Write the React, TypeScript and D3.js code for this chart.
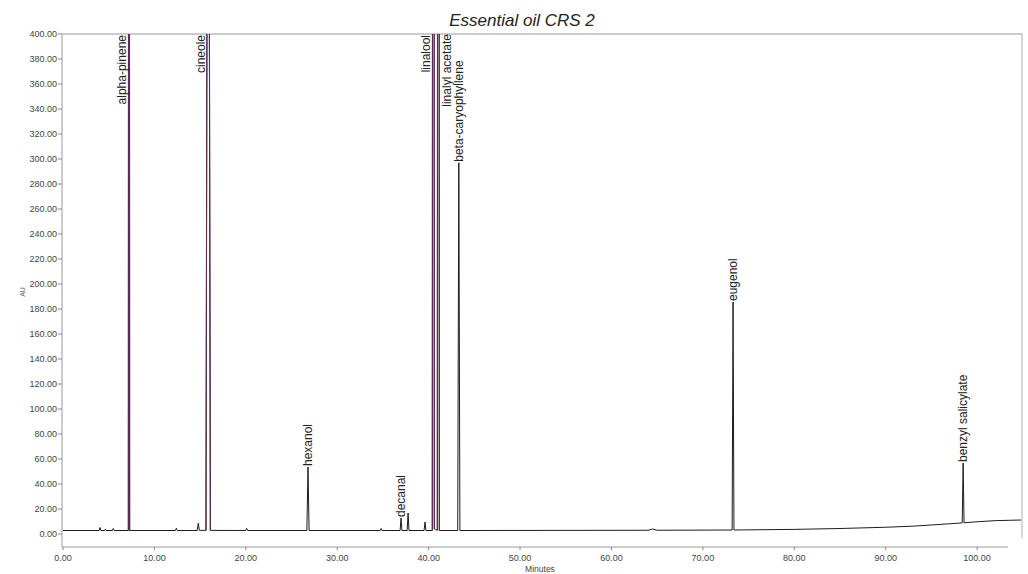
import React from 'react';
import * as d3 from 'd3';

// Chromatogram trace (minutes, AU)
const traceTimes = [
  0, 3.95, 4.05, 4.15, 4.55, 4.62, 4.7, 5.4, 5.5, 5.6,
  7.15, 7.22, 7.29,
  12.3, 12.4, 12.5, 14.68, 14.8, 14.92,
  15.64, 15.88, 16.12,
  19.98, 20.08, 20.18,
  26.68, 26.8, 26.92,
  34.7, 34.8, 34.9,
  36.88, 36.98, 37.08, 37.65, 37.75, 37.85, 39.5, 39.6, 39.7,
  40.4, 40.51, 40.62, 40.75, 40.95, 41.06, 41.17,
  43.18, 43.3, 43.42,
  55, 64.0, 64.5, 65.0,
  73.2, 73.3, 73.4,
  80, 85, 90, 93, 95, 97,
  98.37, 98.47, 98.57,
  100, 102, 104.8,
];
const traceValues = [
  2.8, 2.8, 5.2, 2.8, 2.8, 3.8, 2.8, 2.8, 4.4, 2.8,
  2.8, 2000, 2.8,
  2.8, 4.6, 2.8, 2.8, 8.6, 2.9,
  2.9, 930, 2.9,
  2.8, 4.6, 2.8,
  2.8, 53.6, 2.8,
  2.8, 4.4, 2.8,
  2.8, 12.8, 2.8, 2.8, 16.8, 2.8, 2.8, 9.6, 2.8,
  2.8, 2500, 4.0, 3.5, 3.0, 2500, 2.8,
  2.8, 297, 2.8,
  2.9, 3.0, 4.0, 3.0,
  3.2, 185.6, 3.2,
  3.7, 4.4, 5.4, 6.3, 7.2, 8.2,
  8.9, 56.8, 9.0,
  9.8, 10.7, 11.2,
];

const peakNames = ['alpha-pinene', 'cineole', 'hexanol', 'decanal', 'linalool', 'linalyl acetate', 'beta-caryophyllene', 'eugenol', 'benzyl salicylate'];
const peakTimes = [7.22, 15.88, 26.8, 36.98, 40.51, 41.06, 43.3, 73.3, 98.47];
const peakHeights = [2000, 930, 53.6, 12.8, 2500, 2500, 297, 185.6, 56.8];
const peakLabelSide = ['left', 'left', 'top', 'top', 'left', 'right', 'top', 'top', 'top'];

const xTicks = [0, 10, 20, 30, 40, 50, 60, 70, 80, 90, 100];
const yTicks = [0, 20, 40, 60, 80, 100, 120, 140, 160, 180, 200, 220, 240, 260, 280, 300, 320, 340, 360, 380, 400];

const chartTitle = 'Essential oil CRS 2';
const xTitle = 'Minutes';
const yTitle = 'AU';

const W = 1028;
const H = 574;
const L = 62, R = 1022, T = 34, B = 547;

export default function App() {
  const x = d3.scaleLinear().domain([0, 104.8]).range([63, 1021]);
  const y = d3.scaleLinear().domain([-10.4, 400]).range([B, T]);
  const pts: [number, number][] = traceTimes.map((t, i) => [t, traceValues[i]]);
  const line = d3.line<[number, number]>().x(d => x(d[0])).y(d => y(d[1]));
  const mainPath = line(pts) || '';

  const satSegs: string[] = [];
  pts.forEach((p, i) => {
    if (p[1] > 400 && i > 0 && i < pts.length - 1) {
      satSegs.push(line([pts[i - 1], p, pts[i + 1]]) || '');
    }
  });

  const font = '"Liberation Sans", Arial, sans-serif';

  return (
    <svg width={W} height={H} style={{ position: 'absolute', left: 0, top: 0, background: '#fff' }} fontFamily={font}>
      <defs>
        <clipPath id="plotclip">
          <rect x={L} y={T} width={R - L} height={B - T} />
        </clipPath>
      </defs>
      <text x={522} y={26} textAnchor="middle" fontSize={17} fontStyle="italic" fill="#222">{chartTitle}</text>

      {/* frame */}
      <line x1={L} x2={R} y1={T} y2={T} stroke="#9a9a9a" strokeWidth={1} />
      <line x1={R} x2={R} y1={T} y2={538} stroke="#b0b0b0" strokeWidth={1} />
      <line x1={L} x2={L} y1={T} y2={B} stroke="#9a9a9a" strokeWidth={1} />
      <line x1={L} x2={1008} y1={B} y2={B} stroke="#9a9a9a" strokeWidth={1} />

      {yTicks.map(v => (
        <g key={'y' + v}>
          <line x1={L - 4} x2={L} y1={y(v)} y2={y(v)} stroke="#888" />
          <text x={L - 5} y={y(v)} dy="0.35em" textAnchor="end" fontSize={9} fill="#444">{d3.format('.2f')(v)}</text>
        </g>
      ))}
      {xTicks.map(v => (
        <g key={'x' + v}>
          <line x1={x(v)} x2={x(v)} y1={B} y2={B + 3} stroke="#888" />
          <text x={x(v)} y={B + 11} dy="0.35em" textAnchor="middle" fontSize={9} fill="#444">{d3.format('.2f')(v)}</text>
        </g>
      ))}
      <text x={540} y={572} textAnchor="middle" fontSize={8.5} fill="#444">{xTitle}</text>
      <text transform={`translate(25,292) rotate(-90)`} textAnchor="middle" fontSize={7} fill="#666">{yTitle}</text>

      <g clipPath="url(#plotclip)">
        <path d={mainPath} fill="none" stroke="#1c1c1c" strokeWidth={1} />
        {satSegs.map((d, i) => (
          <path key={'s' + i} d={d} fill="none" stroke="#5e2a58" strokeWidth={1.1} />
        ))}
      </g>

      {peakNames.map((name, i) => {
        const px = x(peakTimes[i]);
        const side = peakLabelSide[i];
        if (side === 'left') {
          return (
            <text key={name} transform={`translate(${px - 3},${T + 1}) rotate(-90)`} textAnchor="end" fontSize={12} fill="#222">{name}</text>
          );
        }
        if (side === 'right') {
          return (
            <text key={name} transform={`translate(${px + 13},${T}) rotate(-90)`} textAnchor="end" fontSize={12} fill="#222">{name}</text>
          );
        }
        const ay = y(peakHeights[i]);
        return (
          <text key={name} transform={`translate(${px},${ay - 1}) rotate(-90)`} dy="0.35em" textAnchor="start" fontSize={12} fill="#222">{name}</text>
        );
      })}
    </svg>
  );
}
